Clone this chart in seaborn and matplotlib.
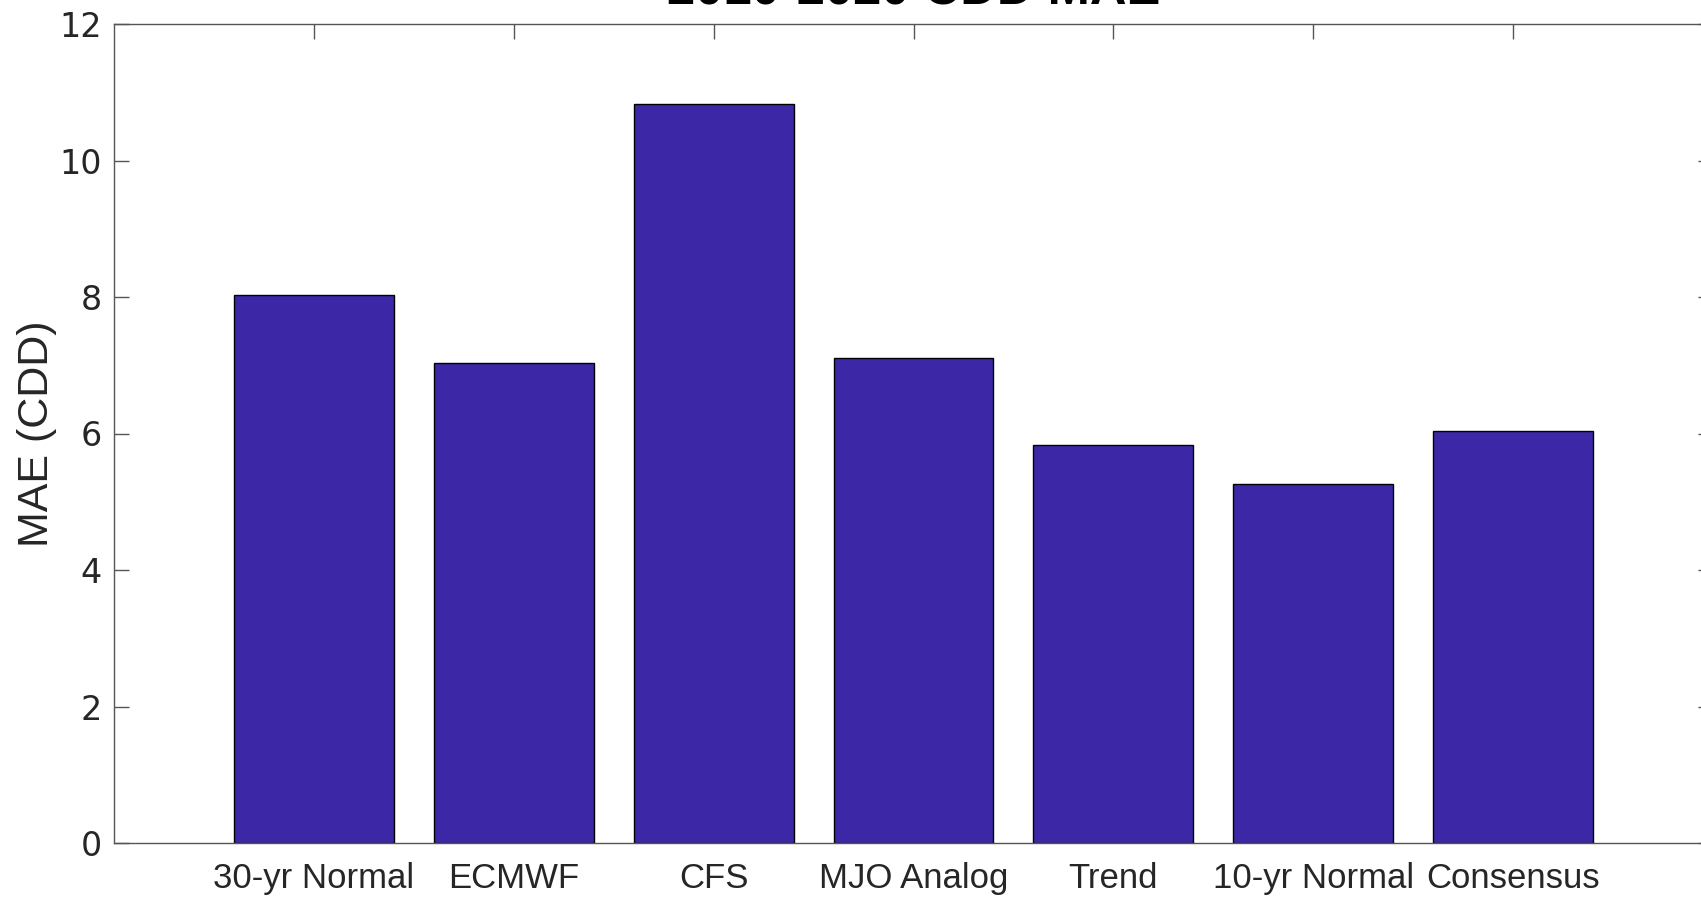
import matplotlib
matplotlib.use("Agg")
import matplotlib.pyplot as plt
import seaborn as sns
import pandas as pd

categories = ["30-yr Normal", "ECMWF", "CFS", "MJO Analog", "Trend", "10-yr Normal", "Consensus"]
mae_values = [8.03, 7.03, 10.83, 7.11, 5.83, 5.26, 6.04]
y_ticks = [0, 2, 4, 6, 8, 10, 12]
title_text = "2010-2020 CDD MAE"
y_label = "MAE (CDD)"

sns.set_theme(style="white")
plt.rcParams['font.family'] = ['Liberation Sans', 'DejaVu Sans']

df = pd.DataFrame({"model": categories, "mae": mae_values})

fig = plt.figure(figsize=(17.01, 9.02), dpi=100)
ax = fig.add_axes([114/1701, 59/902, (1713-114)/1701, 819/902])

sns.barplot(data=df, x="model", y="mae", order=categories, color="#3C28A6",
            saturation=1, width=0.8, edgecolor="black", linewidth=1.0, ax=ax)

ax.set_xlim(-1, 7)
ax.set_ylim(0, 12)
ax.set_yticks(y_ticks)
ax.set_yticklabels([str(t) for t in y_ticks], fontsize=24, color="#262626",
                   family=['DejaVu Sans'])
ax.set_xticks(range(len(categories)))
ax.set_xticklabels(categories, fontsize=25, color="#262626",
                   family=['Liberation Sans Narrow', 'Liberation Sans', 'DejaVu Sans'])
ax.set_xlabel("")
ax.set_ylabel(y_label, fontsize=31, color="#262626", labelpad=1,
              family=['Liberation Sans Narrow', 'Liberation Sans', 'DejaVu Sans'])
ax.set_title(title_text, fontsize=36.5, fontweight="bold", pad=14, color="black")

ax.tick_params(axis="x", pad=14)
ax.tick_params(axis="y", pad=9)
ax.tick_params(axis="both", direction="in", length=11, width=1.0, color="#555555",
               top=True, right=True, bottom=True, left=True)
for side in ["left", "right", "top", "bottom"]:
    ax.spines[side].set_visible(True)
    ax.spines[side].set_color("#555555")
    ax.spines[side].set_linewidth(1.0)

fig.savefig("out.png", dpi=100)
